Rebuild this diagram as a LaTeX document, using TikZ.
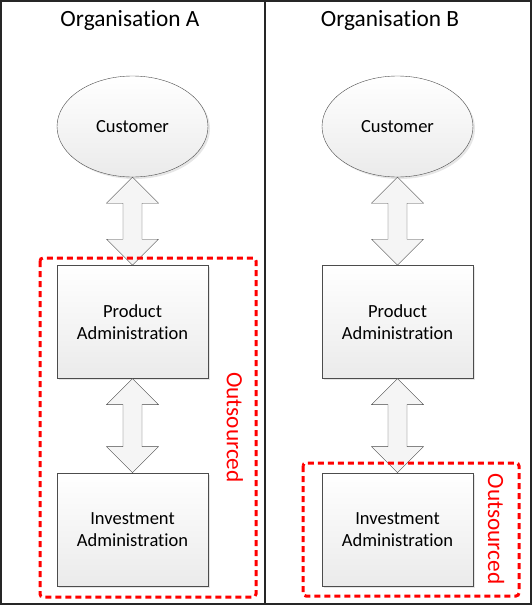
\documentclass[tikz,border=0pt]{standalone}
\usepackage{fontspec}
\setmainfont{Carlito}[Ligatures=NoCommon]
\usetikzlibrary{
  shapes.geometric, % for the customer ellipse
  shadows, % for the soft shadow behind the shapes
  positioning, % for relative positioning of the boxes
  calc, % for the fat double arrows
}
\tikzset{
  party/.style={ % style for the customer
    ellipse,draw=gray!60!black, % drawn as a thin ellipse
    top color=white,bottom color=gray!16, % light gradient fill
    minimum width=151pt,minimum height=101pt,
    font=\fontsize{18.5}{22}\selectfont,
    drop shadow={opacity=0.2,shadow xshift=2pt,shadow yshift=-2pt},
  },
  unit/.style={ % style for the administration boxes
    rectangle,draw=gray!60!black, % drawn as a thin rectangle
    top color=white,bottom color=gray!16,
    minimum width=151pt,minimum height=113pt,
    align=center,
    font=\fontsize{18.5}{22}\selectfont,
    drop shadow={opacity=0.2,shadow xshift=2pt,shadow yshift=-2pt},
  },
  title/.style={ % style for the column headings
    font=\fontsize{23.3}{28}\selectfont,
  },
  fat/.style={ % style for the fat double arrows
    draw=gray!55!black,fill=gray!8,line join=miter,
  },
  outsrc/.style={ % style for the outsourced frame
    draw=red,line width=3pt,dash pattern=on 6pt off 4pt,rounded corners=3pt,
  },
  outlbl/.style={ % style for the outsourced label
    text=red,rotate=-90,font=\fontsize{23.3}{28}\selectfont,
  },
}
% fat double arrow from the bottom of #1 to the top of #2
\newcommand\fatlink[2]{
  \filldraw[fat] let \p1=(#1.south), \p2=(#2.north) in
    (\p1) -- ++(26pt,-26pt) -- ++(-16.5pt,0pt) -- (\x1+9.5pt,\y2+26pt)
    -- ++(16.5pt,0pt) -- (\p2) -- ++(-26pt,26pt) -- ++(16.5pt,0pt)
    -- (\x1-9.5pt,\y1-26pt) -- ++(-16.5pt,0pt) -- cycle;
}
\begin{document}
\begin{tikzpicture}[x=1pt,y=-1pt]
	\useasboundingbox (0,0) rectangle (532,608);

	% panels
	\draw[gray!30!black,line width=1.2pt] (1,1) rectangle (531,604);
	\draw[gray!30!black,line width=1.2pt] (265,1) -- (265,604);
	\node[title] (headA) at (130,20) {Organisation A};
	\node[title] (headB) at (390,20) {Organisation B};

	% organisation A
	\node[party] (custA) at (132.5,126.5) {Customer};
	\node[unit,below=88pt of custA] (prodA) {Product\\Administration};
	\node[unit,below=94pt of prodA] (invA) {Investment\\Administration};
	\fatlink{custA}{prodA}
	\fatlink{prodA}{invA}
	\draw[outsrc] (40,258) rectangle (256,597);
	\node[outlbl] (outA) at (235,427.5) {Outsourced};

	% organisation B
	\node[party] (custB) at (397.5,126.5) {Customer};
	\node[unit,below=88pt of custB] (prodB) {Product\\Administration};
	\node[unit,below=94pt of prodB] (invB) {Investment\\Administration};
	\fatlink{custB}{prodB}
	\fatlink{prodB}{invB}
	\draw[outsrc] (303,463) rectangle (519,596);
	\node[outlbl] (outB) at (496,529) {Outsourced};

\end{tikzpicture}
\end{document}
